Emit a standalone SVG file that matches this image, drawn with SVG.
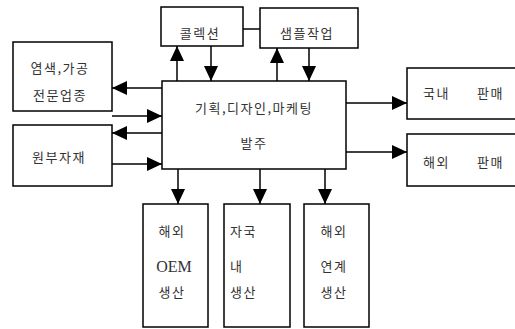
<svg xmlns="http://www.w3.org/2000/svg" width="515" height="329" viewBox="0 0 515 329">
<defs>
<marker id="ah" markerUnits="userSpaceOnUse" markerWidth="15" markerHeight="14" viewBox="0 0 15 14" refX="15" refY="7" orient="auto">
<path d="M0,0 L15,7 L0,14 Z" fill="#000"/>
</marker>
<style>
.box{fill:#fff;stroke:#000;stroke-width:1.5}
.c{stroke:#000;stroke-width:1.5;fill:none}
.a{stroke:#000;stroke-width:1.5;fill:none;marker-end:url(#ah)}
text{font-family:"Noto Sans CJK KR","Liberation Serif",serif;font-size:13px;fill:#333;letter-spacing:1.5px}
.m{text-anchor:middle}
.lat{font-family:"Liberation Serif",serif;font-size:16px;letter-spacing:0}
</style>
</defs>
<rect width="515" height="329" fill="#fff"/>
<g id="connectors">
<line class="c" x1="243" y1="29" x2="260" y2="29"/>
<line class="a" x1="177" y1="81" x2="177" y2="46"/>
<line class="a" x1="211" y1="46" x2="211" y2="81"/>
<line class="a" x1="277" y1="81" x2="277" y2="48"/>
<line class="a" x1="309" y1="48" x2="309" y2="81"/>
<line class="a" x1="162" y1="88" x2="112" y2="88"/>
<line class="a" x1="112" y1="116" x2="162" y2="116"/>
<line class="a" x1="162" y1="133" x2="112" y2="133"/>
<line class="a" x1="112" y1="164" x2="162" y2="164"/>
<line class="a" x1="346" y1="103" x2="407" y2="103"/>
<line class="a" x1="346" y1="152" x2="407" y2="152"/>
<line class="a" x1="178" y1="169" x2="178" y2="204"/>
<line class="a" x1="260" y1="169" x2="260" y2="204"/>
<line class="a" x1="325" y1="169" x2="325" y2="204"/>
</g>
<g id="n-collection">
<rect class="box" x="161" y="7" width="82" height="39"/>
<text class="m" x="200" y="38">콜렉션</text>
</g>
<g id="n-sample">
<rect class="box" x="260" y="8" width="98" height="40"/>
<text class="m" x="307" y="38">샘플작업</text>
</g>
<g id="n-main">
<rect class="box" x="162" y="81" width="184" height="88"/>
<text class="m" x="254" y="113">기획,디자인,마케팅</text>
<text class="m" x="254" y="148">발주</text>
</g>
<g id="n-dye">
<rect class="box" x="13" y="42" width="99" height="69"/>
<text class="m" x="60" y="73">염색,가공</text>
<text class="m" x="60" y="100">전문업종</text>
</g>
<g id="n-material">
<rect class="box" x="13" y="125" width="99" height="61"/>
<text class="m" x="59" y="162">원부자재</text>
</g>
<g id="n-domestic">
<rect class="box" x="407" y="68" width="110" height="51"/>
<text x="423" y="98">국내</text>
<text x="477" y="98">판매</text>
</g>
<g id="n-overseas">
<rect class="box" x="407" y="134" width="110" height="52"/>
<text x="423" y="167">해외</text>
<text x="477" y="167">판매</text>
</g>
<g id="n-oem">
<rect class="box" x="143" y="204" width="65" height="123"/>
<text class="m" x="172" y="236">해외</text>
<text class="m lat" x="174" y="272">OEM</text>
<text class="m" x="172" y="297">생산</text>
</g>
<g id="n-home">
<rect class="box" x="224" y="204" width="66" height="123"/>
<text x="230" y="236">자국</text>
<text x="230" y="271">내</text>
<text x="230" y="297">생산</text>
</g>
<g id="n-linked">
<rect class="box" x="304" y="204" width="65" height="123"/>
<text class="m" x="334" y="236">해외</text>
<text class="m" x="334" y="271">연계</text>
<text class="m" x="334" y="297">생산</text>
</g>
</svg>
